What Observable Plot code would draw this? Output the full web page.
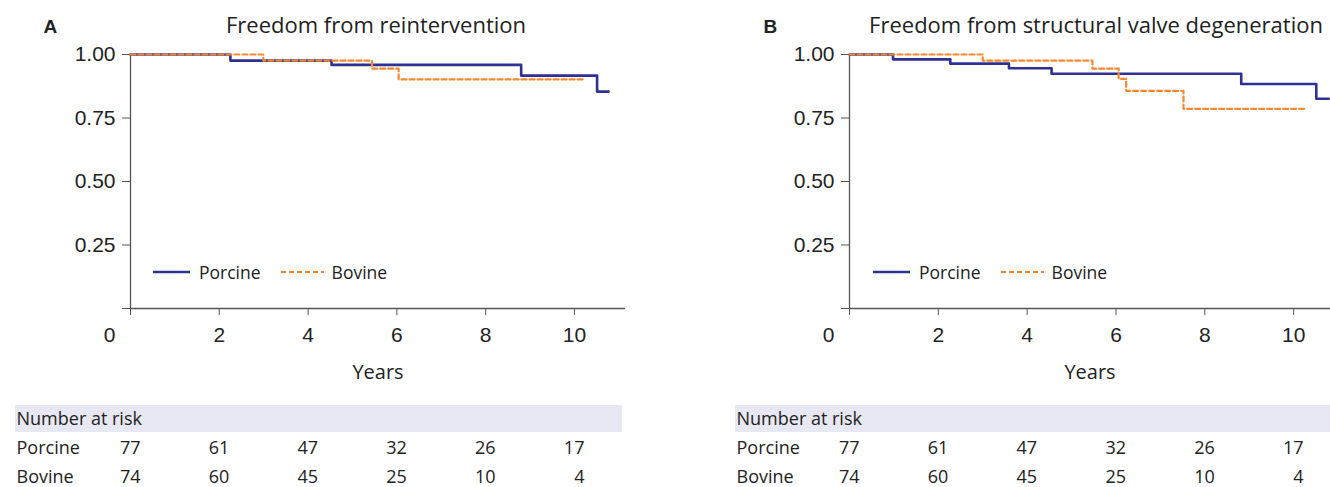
<!DOCTYPE html>
<html>
<head>
<meta charset="utf-8">
<script src="https://cdn.jsdelivr.net/npm/d3@7"></script>
<script src="https://cdn.jsdelivr.net/npm/@observablehq/plot@0.6"></script>
<style>
  html, body { margin: 0; padding: 0; background: #fff; }
  #wrap { position: relative; width: 1330px; height: 487px; overflow: hidden; }
  .panel { position: absolute; top: 0; }
  .panel svg { display: block; }
  .legend { position: absolute; display: flex; align-items: center; font: 17.5px "Open Sans", sans-serif; color: #222; }
  .legend svg { display: inline-block; }
</style>
</head>
<body>
<div id="wrap"></div>
<script>
// ---- data ----
const riskYears = [0, 2, 4, 6, 8, 10];
const riskPorcine = [77, 61, 47, 32, 26, 17];
const riskBovine = [74, 60, 45, 25, 10, 4];
const rowLabels = ["Number at risk", "Porcine", "Bovine"];
const seriesNames = ["Porcine", "Bovine"];
const yTicks = [0, 0.25, 0.5, 0.75, 1];
const xTicks = [0, 2, 4, 6, 8, 10];

// Panel A: Freedom from reintervention
const porcineA_t = [0, 2.25, 4.53, 8.8, 10.51, 10.77];
const porcineA_s = [1.0, 0.976, 0.959, 0.917, 0.854, 0.854];
const bovineA_t = [0, 2.99, 5.44, 6.04, 10.25];
const bovineA_s = [1.0, 0.976, 0.944, 0.902, 0.902];

// Panel B: Freedom from structural valve degeneration
const porcineB_t = [0, 0.98, 2.27, 3.59, 4.55, 8.82, 10.51, 10.79];
const porcineB_s = [1.0, 0.981, 0.964, 0.946, 0.924, 0.884, 0.826, 0.826];
const bovineB_t = [0, 3.0, 5.47, 6.06, 6.23, 7.52, 10.27];
const bovineB_s = [1.0, 0.976, 0.944, 0.904, 0.857, 0.786, 0.786];

const BLUE = "#2e3192";
const ORANGE = "#f7882f";
const AXIS = "#555";
const TEXT = "#222";

function toPoints(t, s) { return t.map((d, i) => ({t: d, s: s[i]})); }

const risk = [];
riskYears.forEach((yr, i) => {
  risk.push({year: yr, group: "Porcine", n: riskPorcine[i]});
  risk.push({year: yr, group: "Bovine", n: riskBovine[i]});
});

const panels = [
  {left: 0, width: 625, ml: 130, xmax: 11.15, letter: "A", title: "Freedom from reintervention", titleDx: -2,
   porcine: toPoints(porcineA_t, porcineA_s), bovine: toPoints(bovineA_t, bovineA_s), tableRight: 622},
  {left: 720, width: 610, ml: 129, xmax: 10.83, letter: "B", title: "Freedom from structural valve degeneration", titleDx: 6,
   porcine: toPoints(porcineB_t, porcineB_s), bovine: toPoints(bovineB_t, bovineB_s), tableRight: 610}
];

const wrap = document.getElementById("wrap");

for (const p of panels) {
  const div = document.createElement("div");
  div.className = "panel";
  div.style.left = p.left + "px";
  div.style.width = p.width + "px";
  wrap.appendChild(div);

  const main = Plot.plot({
    width: p.width,
    height: 390,
    marginLeft: p.ml,
    marginRight: 0,
    marginTop: 54,
    marginBottom: 82,
    style: {fontFamily: "'Liberation Sans', Arial, sans-serif", fontSize: "20px", color: TEXT, background: "transparent", overflow: "visible"},
    x: {domain: [0, p.xmax]},
    y: {domain: [0, 1]},
    marks: [
      Plot.ruleX([0], {y1: 0, y2: 1, stroke: AXIS, strokeWidth: 1.3}),
      Plot.ruleY([0], {stroke: AXIS, strokeWidth: 1.3}),
      Plot.axisY({ticks: yTicks, tickFormat: d => d === 0 ? "" : d3.format(".2f")(d), tickSize: 8, tickPadding: 7,
                  fontSize: 21, stroke: AXIS, fill: TEXT, label: null}),
      Plot.axisX({ticks: xTicks, tickFormat: d => d === 0 ? "" : String(d), tickSize: 7, tickPadding: 12,
                  fontSize: 21, stroke: AXIS, fill: TEXT, label: null}),
      Plot.text([0], {x: d => d, frameAnchor: "bottom", lineAnchor: "middle", dy: 27, dx: -21, text: d => String(d), fontSize: 21, fill: TEXT}),
      Plot.text(["Years"], {frameAnchor: "bottom", lineAnchor: "middle", dy: 64, text: d => d, fontSize: 20, fill: TEXT,
                            fontFamily: "'Open Sans', sans-serif"}),
      Plot.text([p.title], {frameAnchor: "top", lineAnchor: "middle", dy: -29, dx: p.titleDx, text: d => d, fontSize: 22, fill: TEXT,
                            fontFamily: "'Open Sans', sans-serif"}),
      Plot.text([p.letter], {frameAnchor: "top-left", lineAnchor: "middle", dx: 43 - p.ml, dy: -28, textAnchor: "start", text: d => d,
                             fontSize: 19, fontWeight: "bold", fill: TEXT, fontFamily: "'Liberation Sans', Arial, sans-serif"}),
      Plot.line(p.porcine, {x: "t", y: "s", curve: "step-after", stroke: BLUE, strokeWidth: 2.6}),
      Plot.line(p.bovine, {x: "t", y: "s", curve: "step-after", stroke: ORANGE, strokeWidth: 2.2, strokeDasharray: "5,3"})
    ]
  });
  div.appendChild(main);

  const table = Plot.plot({
    width: p.width,
    height: 97,
    marginLeft: 15,
    marginRight: p.width - p.tableRight,
    marginTop: 14,
    marginBottom: 0,
    style: {fontFamily: "'Open Sans', sans-serif", fontSize: "18px", color: TEXT, background: "transparent", overflow: "visible"},
    x: {domain: [0, p.xmax], range: [p.ml, p.width], axis: null},
    y: {type: "band", domain: rowLabels, range: [14, 101], padding: 0, axis: null},
    marks: [
      Plot.cell([rowLabels[0]], {y: d => d, fill: "#e8e8f3", insetTop: 1, insetBottom: 1}),
      Plot.text(rowLabels, {y: d => d, frameAnchor: "left", textAnchor: "start", dx: 1, text: d => d, fill: TEXT}),
      Plot.text(risk, {x: "year", y: "group", text: "n", textAnchor: "end", dx: 10, fill: TEXT})
    ]
  });
  div.appendChild(table);

  // legend (inside the plot area)
  const lg = document.createElement("div");
  lg.className = "legend";
  lg.style.left = "153px";
  lg.style.top = "260px";
  lg.innerHTML =
    `<svg width="37" height="6"><line x1="0" x2="37" y1="3" y2="3" stroke="${BLUE}" stroke-width="2.6"/></svg>` +
    `<span style="margin-left:9px">${seriesNames[0]}</span>` +
    `<svg width="43" height="6" style="margin-left:20px"><line x1="0" x2="43" y1="3" y2="3" stroke="${ORANGE}" stroke-width="2.2" stroke-dasharray="5,3"/></svg>` +
    `<span style="margin-left:8px">${seriesNames[1]}</span>`;
  div.appendChild(lg);
}
</script>
</body>
</html>
